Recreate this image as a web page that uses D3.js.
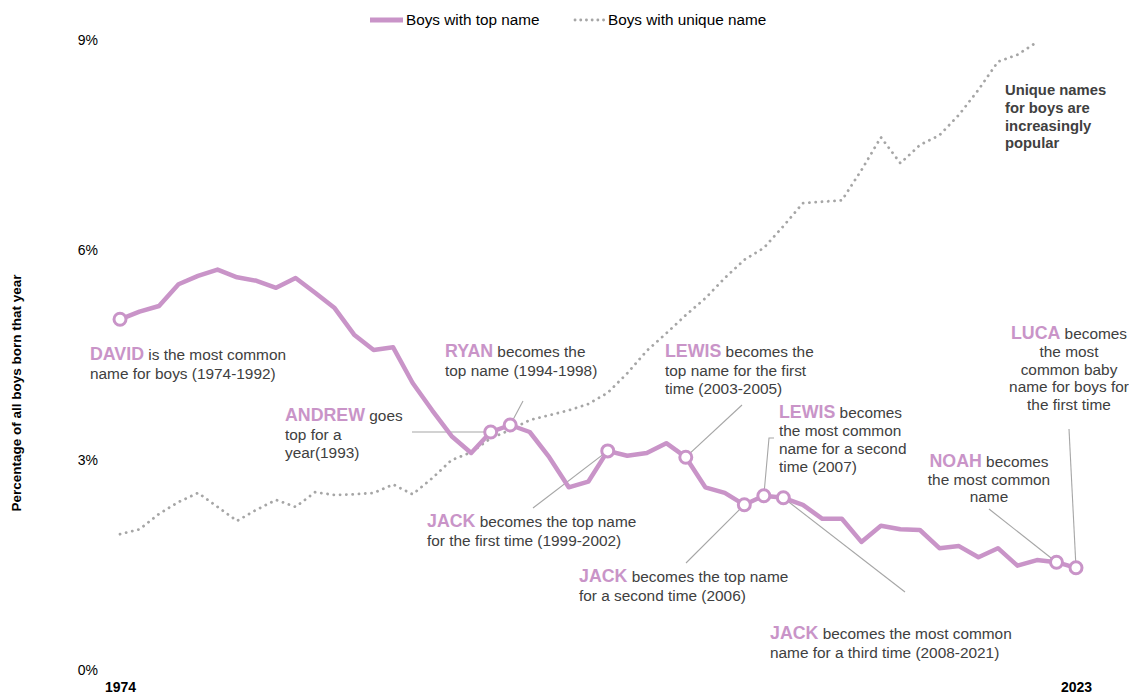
<!DOCTYPE html>
<html><head><meta charset="utf-8">
<script src="https://cdn.jsdelivr.net/npm/d3@7"></script>
<style>
html,body{margin:0;padding:0;background:#fff;}
svg{display:block;font-family:"Liberation Sans",Arial,sans-serif;}
</style></head>
<body><svg id="c" width="1129" height="695"></svg>
<script>
const years = [1974,1975,1976,1977,1978,1979,1980,1981,1982,1983,1984,1985,1986,1987,1988,1989,1990,1991,1992,1993,1994,1995,1996,1997,1998,1999,2000,2001,2002,2003,2004,2005,2006,2007,2008,2009,2010,2011,2012,2013,2014,2015,2016,2017,2018,2019,2020,2021,2022,2023];
const topName = [5.01,5.12,5.20,5.51,5.63,5.72,5.61,5.56,5.46,5.60,5.39,5.17,4.79,4.57,4.61,4.10,3.71,3.34,3.10,3.40,3.50,3.40,3.04,2.61,2.69,3.13,3.06,3.10,3.24,3.04,2.61,2.53,2.36,2.49,2.46,2.36,2.16,2.16,1.83,2.06,2.01,2.00,1.74,1.77,1.61,1.74,1.49,1.57,1.54,1.46];
const uniqueYears = years.slice(0, 48);
const uniqueName = [1.94,2.01,2.23,2.40,2.53,2.33,2.13,2.29,2.43,2.33,2.54,2.50,2.51,2.53,2.65,2.51,2.74,3.00,3.11,3.31,3.43,3.57,3.64,3.71,3.80,3.96,4.24,4.56,4.81,5.07,5.31,5.60,5.86,6.03,6.34,6.67,6.69,6.71,7.14,7.61,7.24,7.50,7.64,7.93,8.29,8.69,8.79,8.97];
const markerYears = [1974,1993,1994,1999,2003,2006,2007,2008,2022,2023];
const yTicks = [0,3,6,9];
const xTicks = [1974,2023];
const seriesNames = ["Boys with top name","Boys with unique name"];

const PURPLE = "#C994C8", GRAY = "#A6A6A6", TXT = "#404040";
const svg = d3.select("#c");
const x = d3.scaleLinear().domain([1974,2023]).range([120,1076]);
const y = d3.scaleLinear().domain([0,9]).range([670,40]);

// y axis
const ya = svg.append("g").attr("transform","translate(99,0)")
  .call(d3.axisLeft(y).tickValues(yTicks).tickSize(0).tickPadding(1).tickFormat(d=>d+"%"));
ya.select(".domain").remove();
ya.selectAll("text").attr("font-size",14).attr("fill","#000").attr("font-family","Liberation Sans, Arial, sans-serif");

// x axis
const xa = svg.append("g").attr("transform","translate(0,680)")
  .call(d3.axisBottom(x).tickValues(xTicks).tickSize(0).tickPadding(2).tickFormat(d3.format("d")));
xa.select(".domain").remove();
xa.selectAll("text").attr("font-size",14).attr("font-weight","bold").attr("fill","#000").attr("font-family","Liberation Sans, Arial, sans-serif");

// y title
svg.append("text").attr("transform","translate(21,393) rotate(-90)")
  .attr("text-anchor","middle").attr("font-size",13.5).attr("font-weight","bold").attr("fill","#000")
  .text("Percentage of all boys born that year");

// legend
const lg = svg.append("g");
lg.append("line").attr("x1",370).attr("x2",403).attr("y1",20).attr("y2",20).attr("stroke",PURPLE).attr("stroke-width",5);
lg.append("text").attr("x",406).attr("y",25).attr("font-size",15.3).attr("fill","#000").text(seriesNames[0]);
lg.append("line").attr("x1",575).attr("x2",604).attr("y1",20).attr("y2",20).attr("stroke",GRAY).attr("stroke-width",2.8)
  .attr("stroke-dasharray","0.1,5.6").attr("stroke-linecap","round");
lg.append("text").attr("x",608).attr("y",25).attr("font-size",15.3).attr("fill","#000").text(seriesNames[1]);

// leader lines (drawn under the series)
const leaders = [
  {yr:1993, pts:[[412,432]]},
  {yr:1994, pts:[[523,401]]},
  {yr:1999, pts:[[533,508]]},
  {yr:2003, pts:[[742,405]]},
  {yr:2007, pts:[[774,438],[769,438]]},
  {yr:2006, pts:[[686,563]]},
  {yr:2008, pts:[[905,592]]},
  {yr:2022, pts:[[989,509]]},
  {yr:2023, pts:[[1069,429]]}
];
const lead = svg.append("g");
leaders.forEach(l=>{
  const i = years.indexOf(l.yr);
  const p = l.pts.concat([[x(l.yr), y(topName[i])]]);
  lead.append("path").attr("d", d3.line()(p)).attr("fill","none").attr("stroke",GRAY).attr("stroke-width",1.1);
});

// unique line
svg.append("path").datum(uniqueYears.map((d,i)=>[d,uniqueName[i]]))
  .attr("d", d3.line().x(d=>x(d[0])).y(d=>y(d[1])))
  .attr("fill","none").attr("stroke",GRAY).attr("stroke-width",2.8)
  .attr("stroke-dasharray","0.1,6.2").attr("stroke-linecap","round");

// top name line
svg.append("path").datum(years.map((d,i)=>[d,topName[i]]))
  .attr("d", d3.line().x(d=>x(d[0])).y(d=>y(d[1])))
  .attr("fill","none").attr("stroke",PURPLE).attr("stroke-width",4.5).attr("stroke-linejoin","round");

// markers
svg.append("g").selectAll("circle").data(markerYears).join("circle")
  .attr("cx",d=>x(d)).attr("cy",d=>y(topName[years.indexOf(d)])).attr("r",6)
  .attr("fill","#fff").attr("stroke",PURPLE).attr("stroke-width",3);

// annotations
function A(x0,y0,name,first,rest,anchor,lh){
  const g = svg.append("text").attr("x",x0).attr("y",y0).attr("text-anchor",anchor||"start");
  const l1 = g.append("tspan").attr("x",x0).attr("dy",0);
  l1.append("tspan").attr("font-weight","bold").attr("fill",PURPLE).attr("font-size",17.8).text(name);
  l1.append("tspan").attr("fill",TXT).attr("font-size",15.4).text(first);
  rest.forEach(r=>{
    g.append("tspan").attr("x",x0).attr("dy",lh||18.5).attr("fill",TXT).attr("font-size",15.4).text(r);
  });
}
A(90,360,"DAVID","  is the most common",["name for boys (1974-1992)"]);
A(285,421,"ANDREW","  goes",["top for a","year(1993)"]);
A(445,357,"RYAN"," becomes the",["top name (1994-1998)"]);
A(665,357,"LEWIS"," becomes the",["top name for the first","time (2003-2005)"]);
A(779,418,"LEWIS"," becomes",["the most common","name for a second","time (2007)"],"start",18);
A(427,527,"JACK"," becomes the top name",["for the first time (1999-2002)"]);
A(579,582,"JACK"," becomes the top name",["for a second time (2006)"]);
A(770,639,"JACK"," becomes the most common",["name for a third time (2008-2021)"]);
A(989,467,"NOAH","  becomes",["the most common","name"],"middle",17.5);
A(1069,339,"LUCA","  becomes",["the most","common baby","name for boys for","the first time"],"middle",17.8);

// unique note
const un = svg.append("text").attr("x",1005).attr("y",95).attr("font-size",14.8).attr("font-weight","bold").attr("fill",TXT);
["Unique names","for boys are","increasingly","popular"].forEach((s,k)=>{
  un.append("tspan").attr("x",1005).attr("dy",k?17.8:0).text(s);
});
</script></body></html>
